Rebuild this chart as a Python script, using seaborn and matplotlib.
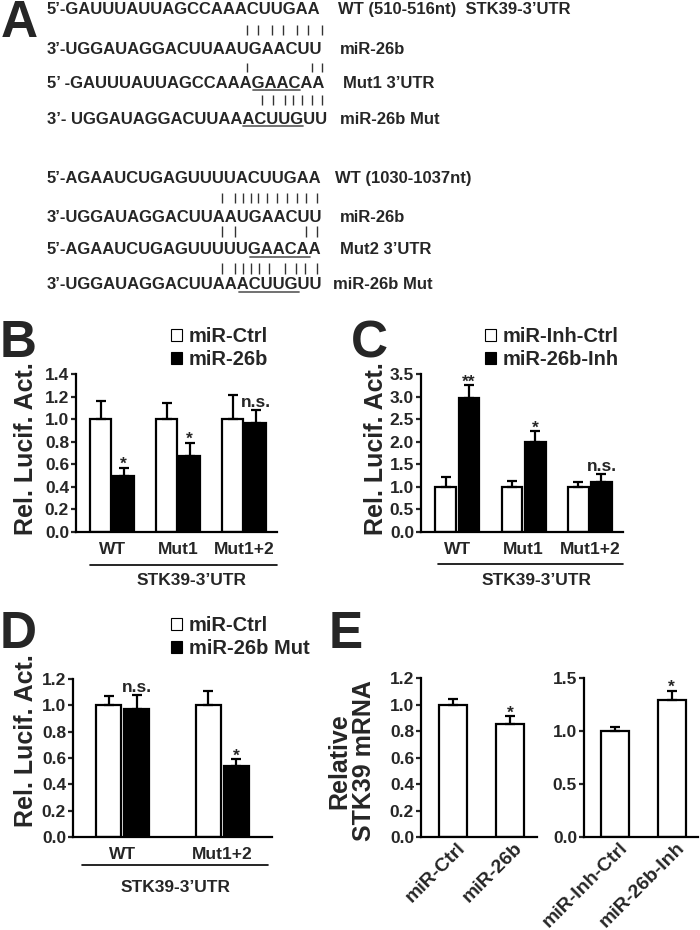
import matplotlib
matplotlib.use("Agg")
import matplotlib.pyplot as plt
from matplotlib.patches import Patch
from matplotlib.ticker import FormatStrFormatter
from matplotlib.transforms import ScaledTranslation
import pandas as pd
import seaborn as sns

# ---------------------------------------------------------------- data
# panel B: luciferase, miR-Ctrl vs miR-26b
bc_constructs = ["WT", "Mut1", "Mut1+2"]
b_groups = ["miR-Ctrl", "miR-26b"]
b_ctrl = [1.0, 1.0, 1.0]
b_ctrl_err = [0.16, 0.14, 0.21]
b_mir = [0.50, 0.67, 0.97]
b_mir_err = [0.07, 0.12, 0.11]
b_marks = ["*", "*", "n.s."]

# panel C: luciferase, inhibitors
c_groups = ["miR-Inh-Ctrl", "miR-26b-Inh"]
c_ctrl = [1.0, 1.0, 1.0]
c_ctrl_err = [0.22, 0.12, 0.11]
c_inh = [2.96, 2.0, 1.11]
c_inh_err = [0.29, 0.24, 0.17]
c_marks = ["**", "*", "n.s."]

# panel D: luciferase, mutant miR-26b
d_constructs = ["WT", "Mut1+2"]
d_groups = ["miR-Ctrl", "miR-26b Mut"]
d_ctrl = [1.0, 1.0]
d_ctrl_err = [0.07, 0.11]
d_mut = [0.97, 0.54]
d_mut_err = [0.11, 0.05]
d_marks = ["n.s.", "*"]

# panel E: relative STK39 mRNA
e1_labels = ["miR-Ctrl", "miR-26b"]
e1_vals = [1.0, 0.85]
e1_err = [0.04, 0.06]
e1_marks = ["", "*"]
e2_labels = ["miR-Inh-Ctrl", "miR-26b-Inh"]
e2_vals = [1.0, 1.29]
e2_err = [0.04, 0.09]
e2_marks = ["", "*"]

# panel A: sequence alignments (text, right-hand label)
block1 = [("5’-GAUUUAUUAGCCAAACUUGAA", "WT (510-516nt)  STK39-3’UTR"),
          ("3’-UGGAUAGGACUUAAUGAACUU", "miR-26b"),
          ("5’ -GAUUUAUUAGCCAAAGAACAA", "Mut1 3’UTR"),
          ("3’- UGGAUAGGACUUAAACUUGUU", "miR-26b Mut")]
block2 = [("5’-AGAAUCUGAGUUUUACUUGAA", "WT (1030-1037nt)"),
          ("3’-UGGAUAGGACUUAAUGAACUU", "miR-26b"),
          ("5’-AGAAUCUGAGUUUUUGAACAA", "Mut2 3’UTR"),
          ("3’-UGGAUAGGACUUAAACUUGUU", "miR-26b Mut")]

# ---------------------------------------------------------------- style
sns.set_style("ticks")
plt.rcParams["font.family"] = ["Liberation Sans", "DejaVu Sans"]
plt.rcParams["font.weight"] = "bold"
plt.rcParams["axes.labelweight"] = "bold"
plt.rcParams["axes.linewidth"] = 1.6
plt.rcParams["axes.edgecolor"] = "black"

W, H = 700, 930
fig = plt.figure(figsize=(7, 9.3), dpi=100)


def px_axes(left, top, right, bottom):
    # axes placed in pixel coords (origin top-left)
    return fig.add_axes([left / W, 1 - bottom / H, (right - left) / W, (bottom - top) / H])


# overlay for panel A text, panel letters and group lines
ax_a = px_axes(0, 0, W, H)
ax_a.set_xlim(0, W)
ax_a.set_ylim(H, 0)
ax_a.axis("off")
renderer = fig.canvas.get_renderer()

seq_kw = dict(fontsize=12, fontweight="bold", va="baseline", ha="left")


def width_px(s):
    t = ax_a.text(0, 0, s, **seq_kw)
    w = t.get_window_extent(renderer).width
    t.remove()
    return w


def draw_block(block, baselines, label_x, bars, underlines):
    for (seq, lab), y, lx in zip(block, baselines, label_x):
        ax_a.text(47, y, seq, **seq_kw)
        ax_a.text(lx, y, lab, **seq_kw)
    for xs, (y0, y1) in bars:
        ax_a.vlines(xs, y0, y1, color="#333333", lw=1)
    for line_i, start, n, y in underlines:
        s = block[line_i][0]
        x0 = 47 + width_px(s[:start]) + 1
        x1 = 47 + width_px(s[:start + n])
        ax_a.plot([x0, x1], [y, y], color="#666666", lw=1.3)


draw_block(block1, [14, 54, 88, 124], [338, 340, 343, 340],
           [([247, 258, 272, 283, 297, 308, 322], (25, 35)),
            ([247, 312, 322], (63, 72)),
            ([262, 273, 285, 293, 302, 312, 322], (95, 105))],
           [(2, 19, 4, 90), (3, 18, 5, 126)])
draw_block(block2, [183, 222, 254, 289], [335, 340, 340, 333],
           [([222, 235, 243, 251, 258, 267, 277, 287, 297, 306, 317], (193, 203)),
            ([222, 235, 306, 317], (226, 237)),
            ([222, 235, 243, 251, 259, 269, 285, 296, 305, 317], (263, 274))],
           [(2, 18, 5, 257), (3, 17, 5, 292)])

# panel letters
for letter, x, y in [("A", 1, 37), ("B", 0, 357), ("C", 351, 357), ("D", 0, 648), ("E", 329, 648)]:
    ax_a.text(x, y, letter, fontsize=37, fontweight="bold", va="baseline", ha="left")

# group lines under x tick labels
for x0, x1, y, tx, ty in [(90, 277, 565, 192, 580), (438, 623, 564, 537, 580), (82, 268, 865, 176, 887)]:
    ax_a.plot([x0, x1], [y, y], color="black", lw=1.2)
    ax_a.text(tx, ty, "STK39-3’UTR", fontsize=12.5, fontweight="bold", ha="center", va="center")


# ---------------------------------------------------------------- bar panels
def style_axes(ax, xlim, ylim, yticks, ylabel, label_xy):
    ax.set_xlim(*xlim)
    ax.set_ylim(*ylim)
    ax.set_yticks(yticks)
    ax.yaxis.set_major_formatter(FormatStrFormatter("%.1f"))
    ax.set_xlabel("")
    ax.set_ylabel(ylabel, fontsize=18, fontweight="bold", linespacing=1.0)
    ax.yaxis.set_label_coords(*label_xy)
    ax.tick_params(axis="y", length=3.5, width=1.6, pad=1.5, labelsize=12.5)
    ax.tick_params(axis="x", length=0, pad=7, labelsize=12.5)
    ax.set_facecolor("none")
    sns.despine(ax=ax)


def add_errs(ax, conts, errs):
    for cont, err in zip(conts, errs):
        xs = [p.get_x() + p.get_width() / 2 for p in cont]
        tops = [p.get_height() for p in cont]
        ax.errorbar(xs, tops, yerr=[[0] * len(err), err], fmt="none", ecolor="black",
                    elinewidth=1.6, capsize=3.6, capthick=1.6, zorder=1)


def add_marks(ax, cont, errs, marks):
    for p, e, m in zip(cont, errs, marks):
        if not m:
            continue
        off = -1 if "*" in m else 2
        ax.annotate(m, (p.get_x() + p.get_width() / 2, p.get_height() + e),
                    xytext=(0, off), textcoords="offset points",
                    ha="center", va="baseline", fontsize=12.5, fontweight="bold")


def grouped_panel(ax, cats, groups, ctrl, ctrl_err, trt, trt_err, marks, width, legend_xy):
    df = pd.DataFrame({"construct": cats * 2,
                       "group": [groups[0]] * len(cats) + [groups[1]] * len(cats),
                       "value": ctrl + trt})
    sns.barplot(data=df, x="construct", y="value", hue="group", hue_order=groups,
                palette=["white", "black"], saturation=1, edgecolor="black", linewidth=1.6,
                width=width, gap=0.1, errorbar=None, legend=False, ax=ax)
    conts = list(ax.containers)
    add_errs(ax, conts, [ctrl_err, trt_err])
    add_marks(ax, conts[1], trt_err, marks)
    handles = [Patch(facecolor="white", edgecolor="black", linewidth=0.8),
               Patch(facecolor="black", edgecolor="black", linewidth=0.8)]
    ax.legend(handles=handles, labels=groups, loc="upper left",
              bbox_to_anchor=(legend_xy[0] / W, 1 - legend_xy[1] / H), bbox_transform=fig.transFigure,
              frameon=False, borderpad=0, borderaxespad=0, handlelength=0.55, handleheight=0.55,
              handletextpad=0.35, labelspacing=0.22, prop={"size": 14.5, "weight": "bold"})


ax_b = px_axes(76, 374, 277, 532)
grouped_panel(ax_b, bc_constructs, b_groups, b_ctrl, b_ctrl_err, b_mir, b_mir_err, b_marks, 0.7, (171, 327))
style_axes(ax_b, (-0.55, 2.5), (0, 1.4), [0, 0.2, 0.4, 0.6, 0.8, 1.0, 1.2, 1.4],
           "Rel. Lucif. Act.", (-0.19, 0.53))

ax_c = px_axes(421, 374, 623, 532)
grouped_panel(ax_c, bc_constructs, c_groups, c_ctrl, c_ctrl_err, c_inh, c_inh_err, c_marks, 0.7, (485, 327))
style_axes(ax_c, (-0.55, 2.5), (0, 3.5), [0, 0.5, 1.0, 1.5, 2.0, 2.5, 3.0, 3.5],
           "Rel. Lucif. Act.", (-0.163, 0.53))

ax_d = px_axes(73, 679, 272, 837)
grouped_panel(ax_d, d_constructs, d_groups, d_ctrl, d_ctrl_err, d_mut, d_mut_err, d_marks, 0.56, (171, 616))
style_axes(ax_d, (-0.5, 1.5), (0, 1.2), [0, 0.2, 0.4, 0.6, 0.8, 1.0, 1.2],
           "Rel. Lucif. Act.", (-0.176, 0.61))


def single_panel(ax, labels, vals, errs, marks, ylim, yticks, ylabel, label_xy):
    sns.barplot(x=labels, y=vals, color="white", saturation=1, edgecolor="black", linewidth=1.6,
                width=0.5, errorbar=None, ax=ax)
    conts = list(ax.containers)
    add_errs(ax, conts, [errs])
    add_marks(ax, conts[0], errs, marks)
    style_axes(ax, (-0.56, 1.47), ylim, yticks, ylabel, label_xy)
    ax.tick_params(axis="x", pad=6, labelsize=14)
    shift = ScaledTranslation(10 / 100, 0, fig.dpi_scale_trans)
    for lab in ax.get_xticklabels():
        lab.set_rotation(45)
        lab.set_ha("right")
        lab.set_va("center")
        lab.set_rotation_mode("anchor")
        lab.set_transform(lab.get_transform() + shift)


ax_e1 = px_axes(421, 678, 537, 837)
single_panel(ax_e1, e1_labels, e1_vals, e1_err, e1_marks, (0, 1.2),
             [0, 0.2, 0.4, 0.6, 0.8, 1.0, 1.2], "Relative\nSTK39 mRNA", (-0.39, 0.48))

ax_e2 = px_axes(584, 678, 698, 837)
single_panel(ax_e2, e2_labels, e2_vals, e2_err, e2_marks, (0, 1.5),
             [0, 0.5, 1.0, 1.5], "", (-0.39, 0.48))

fig.savefig("out.png", dpi=100)
